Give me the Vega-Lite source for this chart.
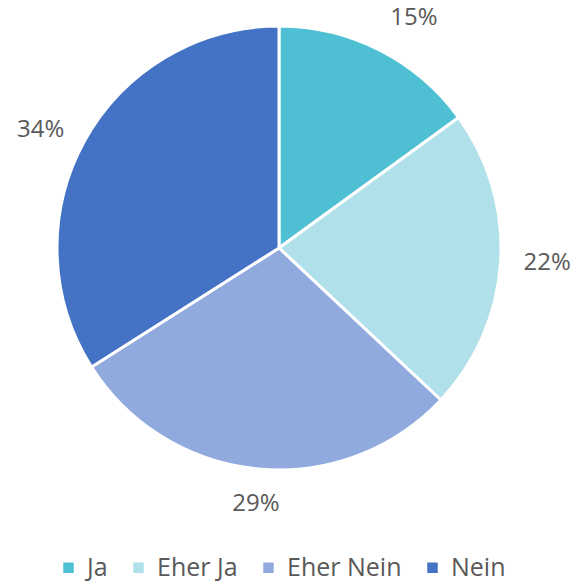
{
  "$schema": "https://vega.github.io/schema/vega-lite/v6.json",
  "width": 558,
  "height": 496,
  "autosize": {"type": "none"},
  "padding": {"left": 0, "top": 0, "right": 20, "bottom": 87},
  "background": "white",
  "data": {
    "values": [
      {"category": "Ja", "value": 0.15, "idx": 1},
      {"category": "Eher Ja", "value": 0.22, "idx": 2},
      {"category": "Eher Nein", "value": 0.29, "idx": 3},
      {"category": "Nein", "value": 0.34, "idx": 4}
    ]
  },
  "encoding": {
    "theta": {"field": "value", "type": "quantitative", "stack": true},
    "order": {"field": "idx", "type": "ordinal"}
  },
  "layer": [
    {
      "mark": {"type": "arc", "outerRadius": 222, "stroke": "white", "strokeWidth": 3},
      "encoding": {
        "color": {
          "field": "category",
          "type": "nominal",
          "sort": ["Ja", "Eher Ja", "Eher Nein", "Nein"],
          "scale": {
            "domain": ["Ja", "Eher Ja", "Eher Nein", "Nein"],
            "range": ["#4FBFD3", "#B0E1EA", "#91AADD", "#4472C4"]
          },
          "legend": {
            "title": null,
            "orient": "none",
            "direction": "horizontal",
            "legendX": 56,
            "legendY": 555,
            "padding": 0,
            "symbolType": "square",
            "symbolSize": 110,
            "symbolStrokeWidth": 0,
            "symbolOffset": 0,
            "labelFont": "Open Sans",
            "labelFontSize": 25,
            "labelColor": "#595959",
            "labelOffset": 6,
            "columnPadding": 18,
            "labelLimit": 300
          }
        }
      }
    },
    {
      "mark": {
        "type": "text",
        "radius": 245,
        "font": "Open Sans",
        "fontSize": 24,
        "fill": "#595959",
        "align": {"expr": "sin(PI*(datum.value_start+datum.value_end)) > 0.3 ? 'left' : (sin(PI*(datum.value_start+datum.value_end)) < -0.3 ? 'right' : 'center')"},
        "baseline": {"expr": "cos(PI*(datum.value_start+datum.value_end)) > 0.5 ? 'bottom' : (cos(PI*(datum.value_start+datum.value_end)) < -0.5 ? 'top' : 'middle')"}
      },
      "encoding": {
        "text": {"field": "value", "type": "quantitative", "format": ".0%"}
      }
    }
  ],
  "config": {"view": {"stroke": null}}
}
